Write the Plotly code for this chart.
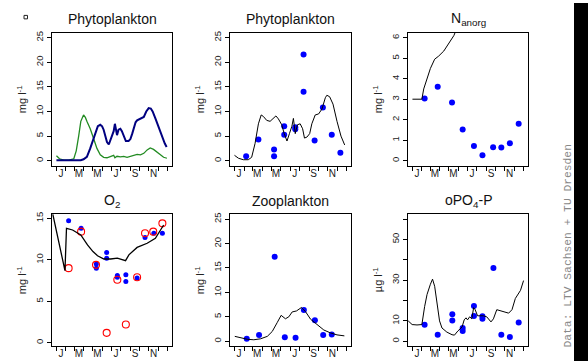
import plotly.graph_objects as go

W, H = 588, 361

# ---------------- data ----------------
month_starts = [0, 31, 59, 90, 120, 151, 181, 212, 243, 273, 304, 334, 365]
label_days = [15, 74, 135, 196, 258, 319]
month_labels = ["J", "M", "M", "J", "S", "N"]

phy_green_day = [0, 10, 24, 40, 57, 65, 73, 80, 89, 95, 100, 111, 122, 133, 144, 155, 166, 177,
                 188, 192, 199, 210, 221, 232, 243, 254, 265, 276, 287, 298, 308, 319, 330, 341, 352, 363]
phy_green_val = [1.0, 0.4, 0.1, 0.1, 0.4, 2.0, 5.0, 8.0, 9.3, 8.8, 8.0, 6.5, 4.5, 2.5, 1.2, 0.7, 0.6, 0.9,
                 1.1, 0.6, 0.9, 0.8, 0.9, 0.7, 0.9, 1.1, 1.3, 1.2, 1.5, 2.2, 2.6, 2.3, 1.7, 1.1, 0.7, 0.5]
phy_navy_day = [0, 30, 60, 80, 89, 100, 111, 122, 128, 136, 144, 150, 155, 161, 166, 172, 177, 183,
                188, 192, 196, 199, 204, 210, 215, 221, 228, 237, 243, 249, 254, 260, 265, 276, 287,
                295, 303, 310, 316, 325, 336, 347, 356, 362]
phy_navy_val = [0.1, 0.05, 0.05, 0.1, 0.3, 0.8, 2.5, 4.5, 5.5, 7.0, 7.3, 7.0, 6.3, 4.8, 3.8, 3.3, 4.2, 5.3,
                6.0, 7.5, 6.0, 5.2, 6.3, 6.5, 6.0, 5.0, 4.0, 4.0, 4.4, 5.5, 6.5, 7.8, 8.2, 8.5, 8.9,
                10.0, 10.7, 10.6, 10.0, 8.6, 6.8, 4.8, 3.5, 2.8]

phy_sim_day = [0, 13, 29, 45, 56, 67, 78, 87, 94, 105, 116, 125, 135, 143, 154, 162, 171, 179, 187,
               192, 198, 205, 214, 222, 228, 236, 245, 252, 263, 274, 285, 296, 301, 310, 321, 334, 347, 359]
phy_sim_val = [1.1, 0.5, 0.2, 0.2, 0.7, 3.5, 7.5, 9.3, 9.0, 8.2, 8.0, 8.6, 9.1, 8.5, 7.3, 5.5, 4.0, 5.5, 7.0,
               8.6, 5.5, 7.3, 7.5, 6.5, 4.6, 4.8, 5.5, 7.5, 9.3, 9.5, 10.5, 12.8, 13.3, 13.0, 11.5, 8.0, 5.0, 3.2]
phy_obs_day = [38, 78, 129, 129, 162, 162, 198, 198, 225, 225, 261, 288, 317, 345]
phy_obs_val = [0.9, 4.3, 2.3, 0.9, 7.0, 5.3, 6.8, 6.4, 21.6, 14.0, 4.1, 10.8, 5.3, 1.6]

n_sim_day = [0, 31, 37, 48, 59, 73, 86, 103, 114, 127, 136, 150, 170]
n_sim_val = [3.0, 3.0, 3.5, 4.0, 4.5, 4.95, 5.1, 5.35, 5.6, 5.85, 6.1, 6.6, 7.2]
n_obs_day = [40, 83, 130, 165, 202, 230, 265, 292, 320, 349]
n_obs_val = [3.03, 3.61, 2.84, 1.52, 0.72, 0.27, 0.66, 0.64, 0.85, 1.80]

o2_sim_day = [-12, 28, 33, 53, 80, 102, 120, 135, 156, 178, 200, 227, 238, 265, 298, 325, 342, 352]
o2_sim_val = [15.5, 8.7, 13.8, 13.6, 13.0, 11.8, 11.0, 10.5, 10.1, 10.1, 10.2, 9.9, 10.6, 11.5, 12.0, 12.6, 13.6, 14.2]
o2_obs_day = [40, 81, 131, 131, 165, 165, 200, 200, 228, 228, 265, 291, 320, 348]
o2_obs_val = [14.7, 13.8, 9.5, 9.0, 10.9, 10.2, 8.1, 7.9, 8.2, 7.4, 7.8, 12.7, 13.2, 13.2]
o2_sat_day = [40, 81, 130, 165, 200, 228, 265, 291, 318, 348]
o2_sat_val = [9.0, 13.4, 9.4, 1.2, 7.6, 2.2, 7.9, 13.2, 13.4, 14.4]

zoo_sim_day = [1, 20, 42, 63, 85, 107, 123, 139, 152, 166, 177, 188, 202, 218, 231, 248, 269, 291, 313, 334, 358]
zoo_sim_val = [1.0, 0.7, 0.4, 0.3, 0.5, 1.0, 2.0, 3.8, 5.3, 4.6, 5.0, 6.0, 6.2, 6.9, 6.1, 4.5, 3.5, 2.3, 1.7, 1.3, 1.1]
zoo_obs_day = [40, 80, 131, 164, 199, 226, 262, 289, 317]
zoo_obs_val = [0.5, 1.3, 17.3, 0.8, 0.7, 6.4, 4.3, 1.3, 1.4]

po4_sim_day = [-14, -1, 15, 31, 40, 48, 59, 66, 73, 81, 89, 97, 113, 130, 138, 149, 163, 170, 176, 181,
               188, 195, 201, 206, 214, 233, 244, 258, 266, 277, 288, 304, 316, 327, 338, 355, 365]
po4_sim_val = [10.0, 8.2, 8.0, 8.2, 17.0, 23.0, 28.0, 30.5, 27.0, 18.0, 10.0, 6.5, 4.5, 3.2, 3.0, 5.0, 7.0,
               10.5, 11.5, 10.5, 12.0, 11.0, 16.5, 15.5, 12.5, 12.5, 12.0, 9.5, 11.0, 15.5, 15.0, 14.5, 13.8,
               15.5, 21.0, 25.0, 29.8]
po4_obs_day = [40, 83, 131, 131, 165, 165, 202, 202, 230, 230, 266, 292, 320, 349]
po4_obs_val = [8.1, 3.2, 13.2, 10.2, 6.5, 5.0, 17.3, 12.4, 12.3, 11.1, 36.0, 3.2, 2.1, 9.2]

panel_titles = ["Phytoplankton", "Phytoplankton", "N<sub>anorg</sub>",
                "O<sub>2</sub>", "Zooplankton", "oPO<sub>4</sub>-P"]
unit_titles = ["mg l<sup>-1</sup>", "mg l<sup>-1</sup>", "mg l<sup>-1</sup>",
               "mg l<sup>-1</sup>", "mg l<sup>-1</sup>", "µg l<sup>-1</sup>"]
y_ranges = [[-1, 26], [-1, 26], [-0.24, 6.24], [-0.4, 15.5], [-1, 26], [-2.4, 62.4]]
y_tickvals = [[0, 5, 10, 15, 20, 25], [0, 5, 10, 15, 20, 25], [0, 1, 2, 3, 4, 5, 6],
              [0, 5, 10, 15], [0, 5, 10, 15, 20, 25], [0, 10, 30, 50]]
y_minor_step = [None, None, None, None, None, 10]
source_note = "Data: LTV Sachsen + TU Dresden"

boxes = [(52, 172, 30, 164), (230, 351, 30, 164), (408, 528, 30, 164),
         (52, 172, 213, 346), (230, 351, 213, 346), (408, 528, 213, 346)]

FONT = "Liberation Sans, Arial, sans-serif"
BLUE = "#0000FF"

fig = go.Figure()

def add_line(i, x, y, color, width, label_axis=False):
    xa = f"x{i + 6}" if label_axis else f"x{i}"
    fig.add_trace(go.Scatter(x=x, y=y, mode="lines", line=dict(color=color, width=width),
                             xaxis=xa, yaxis=f"y{i}", showlegend=False, hoverinfo="skip"))

def add_dots(i, x, y, size=6):
    fig.add_trace(go.Scatter(x=x, y=y, mode="markers", marker=dict(color=BLUE, size=size, line=dict(width=0)),
                             xaxis=f"x{i}", yaxis=f"y{i}", showlegend=False, hoverinfo="skip"))

add_line(1, phy_green_day, phy_green_val, "#228B22", 1.3)
add_line(1, phy_navy_day, phy_navy_val, "#000080", 2, label_axis=True)
add_line(2, phy_sim_day, phy_sim_val, "black", 1, label_axis=True)
add_dots(2, phy_obs_day, phy_obs_val)
add_line(3, n_sim_day, n_sim_val, "black", 1, label_axis=True)
add_dots(3, n_obs_day, n_obs_val)
add_line(4, o2_sim_day, o2_sim_val, "black", 1.3, label_axis=True)
add_dots(4, o2_obs_day, o2_obs_val, size=5)
fig.add_trace(go.Scatter(x=o2_sat_day, y=o2_sat_val, mode="markers",
                         marker=dict(symbol="circle-open", color="#FF0000", size=7, line=dict(width=1.1, color="#FF0000")),
                         xaxis="x4", yaxis="y4", showlegend=False, hoverinfo="skip"))
add_line(5, zoo_sim_day, zoo_sim_val, "black", 1, label_axis=True)
add_dots(5, zoo_obs_day, zoo_obs_val)
add_line(6, po4_sim_day, po4_sim_val, "black", 1, label_axis=True)
add_dots(6, po4_obs_day, po4_obs_val)

layout = dict(width=W, height=H, margin=dict(l=0, r=0, t=0, b=0),
              paper_bgcolor="white", plot_bgcolor="white", showlegend=False,
              font=dict(family=FONT, color="#222"))
annotations = []
shapes = []
XR = [-14.6, 379.6]
for k, (l, r, t, b) in enumerate(boxes):
    i = k + 1
    sx = "" if i == 1 else str(i)
    layout[f"xaxis{sx}"] = dict(
        domain=[l / W, r / W], anchor=f"y{i}", range=XR,
        tickmode="array", tickvals=month_starts, showticklabels=False,
        ticks="outside", ticklen=4, tickcolor="black", tickwidth=1,
        showgrid=False, zeroline=False, showline=True, mirror=True,
        linecolor="black", linewidth=1)
    layout[f"xaxis{i + 6}"] = dict(
        overlaying=f"x{i}" if i > 1 else "x", anchor=f"y{i}", range=XR, side="bottom",
        tickmode="array", tickvals=label_days, ticktext=month_labels,
        ticks="", showgrid=False, zeroline=False, showline=False,
        tickfont=dict(size=10, family=FONT, color="#222"))
    ydict = dict(
        domain=[1 - b / H, 1 - t / H], anchor=f"x{i}", range=y_ranges[k],
        tickmode="array", tickvals=y_tickvals[k], ticks="outside", ticklen=4,
        tickcolor="black", tickwidth=1, tickangle=-90,
        showgrid=False, zeroline=False, showline=True, mirror=True,
        linecolor="black", linewidth=1, tickfont=dict(size=9.5, family=FONT, color="#222"))
    if y_minor_step[k]:
        ydict["minor"] = dict(tickmode="linear", tick0=0, dtick=y_minor_step[k], ticks="outside",
                              ticklen=4, tickcolor="black", tickwidth=1, showgrid=False)
    layout[f"yaxis{sx}"] = ydict
    annotations.append(dict(text=panel_titles[k], x=(l + r) / 2 / W, y=1 - (t - 13.5) / H,
                            xref="paper", yref="paper", xanchor="center", yanchor="middle",
                            showarrow=False, font=dict(size=14, family=FONT, color="#111")))
    annotations.append(dict(text=unit_titles[k], x=(l - 30) / W, y=1 - (t + b) / 2 / H,
                            xref="paper", yref="paper", xanchor="center", yanchor="middle",
                            textangle=-90, showarrow=False, font=dict(size=11, family=FONT, color="#222")))

annotations.append(dict(text=source_note, x=567.5 / W, y=1 - 245 / H, xref="paper", yref="paper",
                        xanchor="center", yanchor="middle", textangle=-90, showarrow=False,
                        font=dict(size=11.3, family="Liberation Mono, Courier New, monospace", color="#888")))

# right-hand black band
shapes.append(dict(type="rect", xref="paper", yref="paper", x0=574 / W, x1=1.0, y0=0, y1=1,
                   fillcolor="#000000", line=dict(width=0), layer="above"))
shapes.append(dict(type="rect", xref="paper", yref="paper", x0=24 / W, x1=27.5 / W,
                   y0=1 - 16 / H, y1=1 - 12.5 / H, line=dict(color="#222", width=1), fillcolor="white"))

layout["annotations"] = annotations
layout["shapes"] = shapes
fig.update_layout(**layout)
fig.write_html("out.html", config={"displayModeBar": False},
               post_script="document.body.style.margin='0';document.body.style.overflow='hidden';")
